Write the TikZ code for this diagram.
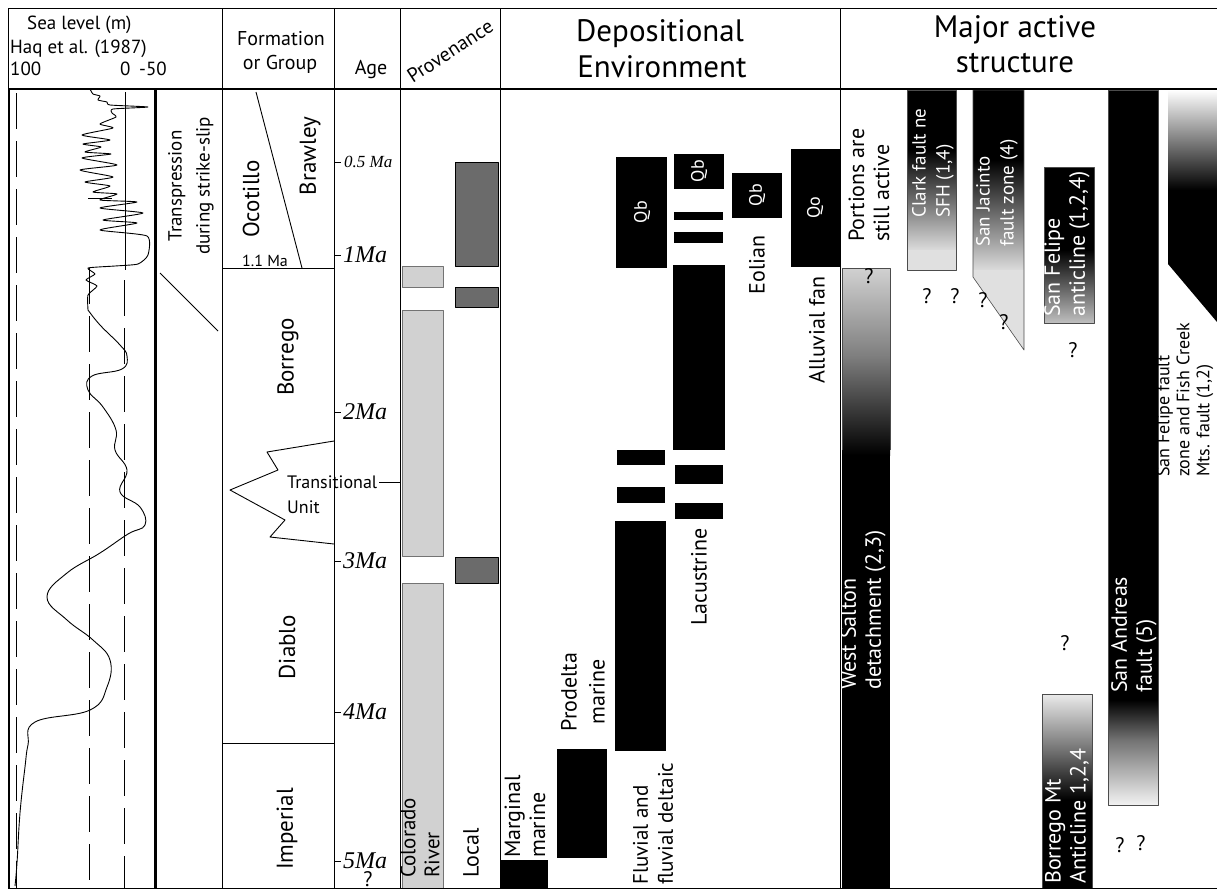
\documentclass[tikz,border=0pt]{standalone}
\usepackage{fontspec}
\setmainfont{PT Sans}
\newfontfamily\agefont{Liberation Serif}
\begin{document}
\begin{tikzpicture}[x=1pt,y=-1pt,line join=round,
  txt/.style={font=\fontsize{22}{25}\selectfont,inner sep=0pt},
  fm/.style={font=\fontsize{23}{26}\selectfont,inner sep=0pt,rotate=90},
  hdr/.style={font=\fontsize{31}{36}\selectfont,inner sep=0pt,align=center},
  shdr/.style={font=\fontsize{20}{24}\selectfont,inner sep=0pt},
  slhdr/.style={font=\fontsize{19}{23}\selectfont,inner sep=0pt,anchor=base west},
  vt/.style={txt,rotate=90,align=left,anchor=west},
  vc/.style={txt,rotate=90,align=center},
  wt/.style={text=white},
  agel/.style={font=\agefont\itshape\fontsize{24}{26}\selectfont,inner sep=0pt,anchor=west},
  qm/.style={font=\fontsize{21}{23}\selectfont,inner sep=0pt},
  qlab/.style={font=\fontsize{18}{20}\selectfont,inner sep=0pt,rotate=90,text=white},
  blk/.style={fill=black},
  lgbox/.style={fill=black!18,draw=black!55,line width=0.7pt},
  dgbox/.style={fill=black!58,draw=black,line width=0.7pt},
  edge/.style={draw=black!70,line width=0.6pt},
  frame/.style={line width=1pt},
  thinline/.style={line width=0.9pt},
  dashline/.style={line width=0.9pt,dash pattern=on 36pt off 12pt},
]
\useasboundingbox (0,0) rectangle (1217,892);
\fill[white] (0,0) rectangle (1217,892);

% ---------------- Sea level column ----------------
\draw[dashline] (16,93) -- (16,888);
\draw[dashline] (89,268) -- (89,888);
\draw[dashline] (124,280) -- (124,888);
\draw[thinline] (125,92) -- (125,270);
\draw[thinline] (88,198) -- (112,198);
\draw[thinline,smooth,tension=0.35] plot coordinates {
 (90,89) (93,94) (100,96) (98,100) (107,102) (110,105) (148,107) (113,109) (112,113)
 (116,117) (100,124) (113,128) (82,135) (110,140) (83,144) (101,147) (85,152) (111,154)
 (82,158) (117,165) (80,170) (113,177) (85,182) (110,186) (93,192) (117,194) (100,200)
 (137,202) (100,208) (143,213) (103,220) (137,223) (100,230) (147,236) (148,255)
 (138,264) (115,266) (88,268) (95,274) (86,280) (97,286) (88,295) (88,310)};
\draw[thinline,smooth,tension=0.7] plot coordinates {
 (88,310) (100,325) (120,345) (127,356) (122,369) (92,376) (88,390) (103,407) (116,430)
 (115,450) (127,470) (120,492) (140,507) (145,525) (128,534) (100,553) (67,573) (47,597)
 (67,620) (93,640) (110,660) (107,687) (90,710) (35,722) (28,745) (25,767) (20,813)
 (17,863) (15,886)};

% header texts
\node[slhdr] (sl1) at (27,29) {Sea level (m)};
\node[slhdr] (sl2) at (10,53) {Haq et al. (1987)};
\node[slhdr] (sl3) at (10,75) {100};
\node[slhdr] (sl4) at (120,75) {0};
\node[slhdr] (sl5) at (139,75) {-50};
\node[shdr,anchor=base] (fg1) at (281,45) {Formation};
\node[shdr,anchor=base] (fg2) at (280,69) {or Group};
\node[shdr,anchor=base] (agehd) at (371,74) {Age};
\node[shdr,rotate=33] (provhd) at (450,51) {Provenance};
\node[hdr,anchor=base] (dep1) at (660,41) {Depositional};
\node[hdr,anchor=base] (dep2) at (662,77) {Environment};
\node[hdr,anchor=base] (mas1) at (1015,37) {Major active};
\node[hdr,anchor=base] (mas2) at (1015,72) {structure};

% ---------------- Transpression column ----------------
\node[vc,font=\fontsize{19}{28}\selectfont] (transp) at (191,186) {Transpression\\during strike-slip};
\draw[thinline] (160,273) -- (218,331);

% ---------------- Formation column ----------------
\draw[thinline] (256,92) -- (302,268);
\draw[thinline] (222,268) -- (334,268);
\draw[thinline] (222,743) -- (334,743);
\draw[thinline] (334,441) -- (267,452) -- (278,470) -- (230,490) -- (285,520) -- (270,537) -- (334,544);
\node[fm] (ocot) at (251,199) {Ocotillo};
\node[fm] (braw) at (310,156) {Brawley};
\node[txt,font=\fontsize{16}{18}\selectfont] (onemaone) at (265,261) {1.1 Ma};
\node[fm] (borr) at (288,357) {Borrego};
\node[txt,font=\fontsize{18}{20}\selectfont,anchor=west] (trans) at (287,482) {Transitional};
\node[txt,font=\fontsize{18}{20}\selectfont,anchor=west] (unit) at (287,507) {Unit};
\draw[thinline] (trans.east) ++(2,0) -- (400,482);
\node[fm] (diab) at (287,647) {Diablo};
\node[fm] (impe) at (287,829) {Imperial};

% ---------------- Age column ----------------
\foreach \yy/\lab/\nm in {255/1Ma/a1,412/2Ma/a2,561/3Ma/a3,712/4Ma/a4,861/5Ma/a5}{
  \draw[thinline] (334,\yy) -- (341,\yy);
  \node[agel] (\nm) at (343,\yy) {\lab};
}
\draw[thinline] (334,162) -- (341,162);
\node[agel,font=\agefont\itshape\fontsize{17}{19}\selectfont] (a05) at (344,162) {0.5 Ma};
\node[qm] (qage) at (368,879) {?};

% ---------------- Provenance column ----------------
\draw[lgbox] (402,266) rectangle (443,287);
\draw[lgbox] (402,310) rectangle (443,556);
\draw[lgbox] (402,583) rectangle (443,888);
\draw[dgbox] (455,162) rectangle (498,266);
\draw[dgbox] (455,287) rectangle (498,307);
\draw[dgbox] (455,557) rectangle (498,583);
\node[vt,font=\fontsize{21}{24}\selectfont] (colr) at (420,878) {Colorado\\River};
\node[vc] (local) at (471,853) {Local};

% ---------------- Depositional environment ----------------
\fill[blk] (500,860) rectangle (548,888);
\fill[blk] (557,749) rectangle (607,858);
\fill[blk] (615,521) rectangle (666,751);
\fill[blk] (617,450) rectangle (665,465);
\fill[blk] (617,487) rectangle (665,503);
\fill[blk] (616,157) rectangle (667,268);
\fill[blk] (674,154) rectangle (724,189);
\fill[blk] (674,212) rectangle (723,220);
\fill[blk] (674,232) rectangle (723,243);
\fill[blk] (673,265) rectangle (725,450);
\fill[blk] (675,465) rectangle (723,484);
\fill[blk] (675,503) rectangle (723,519);
\fill[blk] (732,173) rectangle (782,218);
\fill[blk] (791,149) rectangle (840,267);
\node[qlab] (qb1) at (642,212) {Qb};
\node[qlab] (qb2) at (699,171) {Qb};
\node[qlab] (qb3) at (757,195) {Qb};
\node[qlab] (qo) at (815,208) {Qo};
\node[vt] (marg) at (525,858) {Marginal\\marine};
\node[vc,font=\fontsize{22}{28}\selectfont] (prod) at (583,692) {Prodelta\\marine};
\node[vt,font=\fontsize{21}{25}\selectfont] (fluv) at (653,885) {Fluvial and\\fluvial deltaic};
\node[vc] (lac) at (699,577) {Lacustrine};
\node[vc] (eol) at (757,265) {Eolian};
\node[vc] (allu) at (817,330) {Alluvial fan};

% ---------------- Major active structure ----------------
% West Salton detachment
\shade[top color=black!18,bottom color=black!50] (842,268) rectangle (890,355);
\shade[top color=black!50,bottom color=black] (842,355) rectangle (890,455);
\fill[black] (842,455) rectangle (890,888);
\draw[edge] (842,450) -- (842,268) -- (890,268) -- (890,450);
% Clark fault
\fill[black] (907,90) rectangle (956,150);
\shade[top color=black,bottom color=black!14] (907,150) rectangle (956,250);
\fill[black!12] (907,250) rectangle (956,270);
\draw[edge] (907,90) rectangle (956,270);
% San Jacinto
\begin{scope}
\clip (973,90) -- (1024,90) -- (1024,350) -- (973,277) -- cycle;
\fill[black] (973,90) rectangle (1024,160);
\shade[top color=black,bottom color=black!14] (973,160) rectangle (1024,270);
\fill[black!12] (973,270) rectangle (1024,350);
\end{scope}
\draw[edge] (973,90) -- (1024,90) -- (1024,350) -- (973,277) -- cycle;
% San Felipe anticline
\fill[black] (1044,167) rectangle (1094,250);
\shade[top color=black,bottom color=black!25] (1044,250) rectangle (1094,323);
\draw[edge] (1044,167) rectangle (1094,323);
% San Andreas fault
\fill[black] (1108,90) rectangle (1158,700);
\shade[top color=black,bottom color=black!55] (1108,700) rectangle (1158,740);
\shade[top color=black!55,bottom color=black!5] (1108,740) rectangle (1158,805);
\draw[edge] (1108,90) rectangle (1158,805);
% Borrego Mt anticline
\shade[top color=black!8,bottom color=black!55] (1042,694) rectangle (1092,750);
\shade[top color=black!55,bottom color=black] (1042,750) rectangle (1092,800);
\fill[black] (1042,800) rectangle (1092,888);
\draw[edge] (1042,888) -- (1042,694) -- (1092,694) -- (1092,888);
% San Felipe fault zone
\begin{scope}
\clip (1168,90) -- (1217,90) -- (1217,322) -- (1168,264) -- cycle;
\shade[top color=white,bottom color=black] (1168,90) rectangle (1217,190);
\fill[black] (1168,190) rectangle (1217,322);
\end{scope}

\node[vt] (port) at (869,242) {Portions are\\still active};
\node[vt,wt,font=\fontsize{19}{24}\selectfont] (clark) at (933,218) {Clark fault ne\\SFH (1,4)};
\node[vt,wt,font=\fontsize{19}{24}\selectfont] (sjac) at (997,247) {San Jacinto\\fault zone (4)};
\node[vt,wt] (sfa) at (1067,317) {San Felipe\\anticline (1,2,4)};
\node[vt,wt] (wsd) at (863,690) {West Salton\\detachment (2,3)};
\node[vt,wt] (sanand) at (1134,693) {San Andreas\\fault (5)};
\node[vt,wt] (bma) at (1067,884) {Borrego Mt\\Anticline 1,2,4};
\node[vt,font=\fontsize{18}{20}\selectfont] (sff) at (1185,477) {San Felipe fault\\zone and Fish Creek\\Mts. fault (1,2)};

\node[qm] (q1) at (869,276) {?};
\node[qm] (q2) at (927,296) {?};
\node[qm] (q3) at (955,296) {?};
\node[qm] (q4) at (983,300) {?};
\node[qm] (q5) at (1004,322) {?};
\node[qm] (q6) at (1073,350) {?};
\node[qm] (q7) at (1065,643) {?};
\node[qm] (q8) at (1120,845) {?};
\node[qm] (q9) at (1141,843) {?};

% ---------------- Frame ----------------
\draw[frame] (8,8) -- (1217,8);
\draw[line width=2.5pt] (8,89) -- (1217,89);
\draw[frame] (8,888) -- (1217,888);
\draw[frame] (8,8) -- (8,89);
\draw[line width=2.5pt] (9,89) -- (9,888);
\draw[line width=3pt] (155,89) -- (155,888);
\foreach \xx in {222,334,400,500,840} \draw[frame] (\xx,8) -- (\xx,888);
\end{tikzpicture}
\end{document}
